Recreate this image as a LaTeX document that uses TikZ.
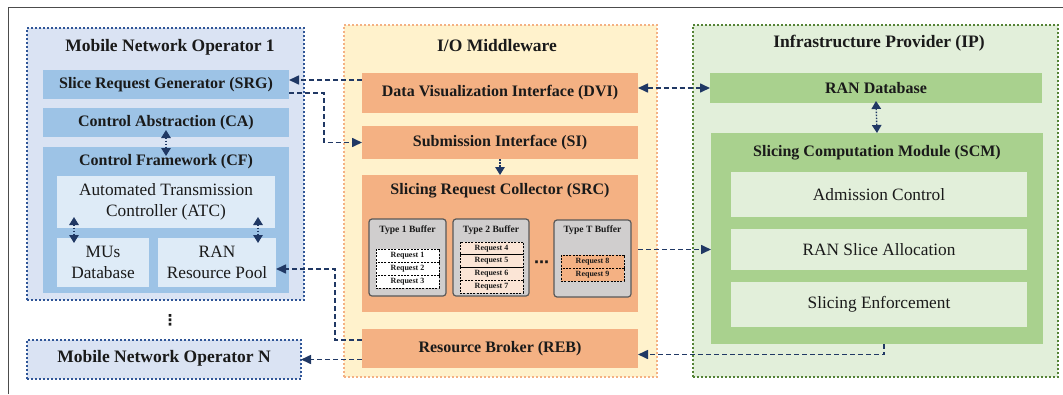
\documentclass[tikz,border=0pt]{standalone}
\usepackage{fontspec}
\setmainfont{Liberation Serif}
\newfontfamily\symfont{DejaVu Sans}
\usetikzlibrary{arrows.meta,calc}

\definecolor{mnoFill}{HTML}{DAE3F3}
\definecolor{mnoLine}{HTML}{2F5597}
\definecolor{blueBox}{HTML}{9DC3E6}
\definecolor{paleBlue}{HTML}{DEEBF7}
\definecolor{midFill}{HTML}{FFF2CC}
\definecolor{midLine}{HTML}{F4B183}
\definecolor{orangeBox}{HTML}{F4B183}
\definecolor{paleOrange}{HTML}{FBE5D6}
\definecolor{bufFill}{HTML}{D0CECE}
\definecolor{bufLine}{HTML}{595959}
\definecolor{ipFill}{HTML}{E2EFDA}
\definecolor{ipLine}{HTML}{548235}
\definecolor{greenBox}{HTML}{A9D18E}
\definecolor{connCol}{HTML}{203864}
\definecolor{txt}{HTML}{1A1A1A}

% rectangle node given by its two corners: style, name, x1, y1, x2, y2, text
\newcommand\boxrect[7]{%
  \node[#1, minimum width={#5-#3}, minimum height={#6-#4}]
    (#2) at ({(#3+#5)/2},{(#4+#6)/2}) {#7};}

\tikzset{
  base/.style={inner sep=0pt, outer sep=0pt, text=txt, align=center},
  panel/.style={base, line width=2pt, dash pattern=on 2pt off 2pt},
  ttl/.style={base, font=\fontsize{17.5}{20}\selectfont\bfseries},
  lbl/.style={base, font=\fontsize{16}{19}\selectfont\bfseries},
  reg/.style={base, font=\fontsize{17.3}{21.5}\selectfont},
  bluebox/.style={lbl, fill=blueBox},
  palebox/.style={reg, fill=paleBlue},
  orbox/.style={lbl, fill=orangeBox},
  grbox/.style={lbl, fill=greenBox},
  ipbox/.style={reg, fill=ipFill},
  buffer/.style={base, draw=bufLine, fill=bufFill, line width=1.2pt, rounded corners=3pt},
  buftitle/.style={base, font=\fontsize{9.6}{11}\selectfont\bfseries},
  request/.style={base, draw=black, line width=0.7pt, dash pattern=on 2pt off 1.3pt,
    font=\fontsize{8}{9}\selectfont\bfseries},
  ellip/.style={base, font=\symfont\fontsize{15}{15}\selectfont\bfseries},
  conn/.style={draw=connCol, line width=1.6pt, dash pattern=on 5pt off 3pt,
    -{Triangle[length=10pt,width=9pt]}},
  linkarr/.style={draw=connCol, line width=1.4pt, dash pattern=on 1.5pt off 1.5pt,
    {Triangle[length=8pt,width=9.5pt]}-{Triangle[length=8pt,width=9.5pt]}},
  downarr/.style={draw=connCol, line width=1.4pt, dash pattern=on 1.5pt off 1.5pt,
    -{Triangle[length=8pt,width=9.5pt]}},
  frame/.style={draw=black!70, line width=1pt}
}

\begin{document}
\begin{tikzpicture}[x=1pt,y=-1pt]
\useasboundingbox (0,0) rectangle (1063,394);
\draw[frame] (8,394) -- (8,7) -- (1063,7);

% ---------------- Mobile network operators ----------------
\boxrect{panel, draw=mnoLine, fill=mnoFill}{mno1}{27}{28}{304}{300}{}
\node[ttl] (mno1t) at (170,47) {Mobile Network Operator 1};
\boxrect{bluebox}{srg}{43}{70}{289}{99}{Slice Request Generator (SRG)}
\boxrect{bluebox}{ca}{43}{108}{289}{137}{Control Abstraction (CA)}
\boxrect{base, fill=blueBox}{cf}{43}{147}{289}{293}{}
\node[lbl] (cft) at (166,162) {Control Framework (CF)};
\boxrect{palebox}{atc}{57}{176}{275}{228}{Automated Transmission\\Controller (ATC)}
\boxrect{palebox}{mus}{57}{238}{149}{287}{MUs\\Database}
\boxrect{palebox}{pool}{158}{238}{276}{287}{RAN\\Resource Pool}

\draw[linkarr] ($(ca.south)+(0,-7)$) -- ($(cf.north)+(0,9)$);
\draw[linkarr] ($(atc.south west)+(17,-11)$) -- ($(mus.north west)+(17,5)$);
\draw[linkarr] ($(atc.south east)+(-17,-11)$) -- ($(pool.north east)+(-18,5)$);

\node[ellip] (vdots) at (170,320) {⋮};

\boxrect{panel, draw=mnoLine, fill=mnoFill}{mnoN}{27}{340}{301}{379}{}
\node[ttl] (mnoNt) at (164,358) {Mobile Network Operator N};

% ---------------- I/O middleware ----------------
\boxrect{panel, draw=midLine, fill=midFill}{mid}{344}{25}{657}{377}{}
\node[ttl] (midt) at (497,46) {I/O Middleware};
\boxrect{orbox}{dvi}{362}{73}{638}{113}{Data Visualization Interface (DVI)}
\boxrect{orbox}{si}{362}{126}{638}{159}{Submission Interface (SI)}
\boxrect{base, fill=orangeBox}{src}{362}{175}{638}{312}{}
\node[lbl] (srct) at (500,191) {Slicing Request Collector (SRC)};
\boxrect{orbox}{reb}{362}{329}{638}{368}{Resource Broker (REB)}

\draw[downarr] (si.south) -- (src.north);

% request buffers
\boxrect{buffer}{b1}{369}{219}{446}{296}{}
\node[buftitle] (b1t) at (407.5,230) {Type 1 Buffer};
\boxrect{request, fill=white}{r1}{376}{249}{439}{262}{Request 1}
\boxrect{request, fill=white}{r2}{376}{262}{439}{275}{Request 2}
\boxrect{request, fill=white}{r3}{376}{275}{439}{288}{Request 3}

\boxrect{buffer}{b2}{453}{219}{529}{296}{}
\node[buftitle] (b2t) at (491,230) {Type 2 Buffer};
\boxrect{request, fill=paleOrange}{r4}{460}{242}{523}{254.75}{Request 4}
\boxrect{request, fill=paleOrange}{r5}{460}{254.75}{523}{267.5}{Request 5}
\boxrect{request, fill=paleOrange}{r6}{460}{267.5}{523}{280.25}{Request 6}
\boxrect{request, fill=paleOrange}{r7}{460}{280.25}{523}{293}{Request 7}

\node[ellip] (hdots) at (541.5,264) {⋯};

\boxrect{buffer}{bT}{554}{220}{631}{297}{}
\node[buftitle] (bTt) at (592.5,230) {Type T Buffer};
\boxrect{request, fill=orangeBox}{r8}{561}{255}{624}{268}{Request 8}
\boxrect{request, fill=orangeBox}{r9}{561}{268}{624}{281}{Request 9}

% ---------------- Infrastructure provider ----------------
\boxrect{panel, draw=ipLine, fill=ipFill}{ip}{693}{25}{1058}{377}{}
\node[ttl] (ipt) at (879,43) {Infrastructure Provider (IP)};
\boxrect{grbox}{randb}{710}{73}{1042}{103}{RAN Database}
\boxrect{base, fill=greenBox}{scm}{711}{133}{1043}{344}{}
\node[lbl] (scmt) at (877,153) {Slicing Computation Module (SCM)};
\boxrect{ipbox}{adm}{731}{172}{1027}{217}{Admission Control}
\boxrect{ipbox}{alloc}{731}{229}{1027}{270}{RAN Slice Allocation}
\boxrect{ipbox}{enf}{731}{282}{1027}{327}{Slicing Enforcement}

\draw[linkarr] ($(randb.south)+(0,-2)$) -- (scm.north);

% ---------------- connectors ----------------
\draw[conn] ($(dvi.west)+(0,-13)$) -- ($(srg.east)+(0,-4.5)$);
\draw[conn] ($(srg.east)+(0,8.5)$) -- ++(35,0) |- (si.west);
\draw[conn, {Triangle[length=10pt,width=9pt]}-{Triangle[length=10pt,width=9pt]}]
  (dvi.east |- randb.west) -- (randb.west);
\draw[conn] (src.east |- alloc.west) -- (scm.west |- alloc.west);
\draw[conn] ($(reb.west)+(0,-8.5)$) -- ++(-27,0) |- ($(pool.east)+(0,6.5)$);
\draw[conn] (reb.west |- mnoN.east) -- (mnoN.east);
\draw[conn] ($(scm.south)+(7,0)$) |- ($(reb.east)+(0,6)$);
\end{tikzpicture}
\end{document}
